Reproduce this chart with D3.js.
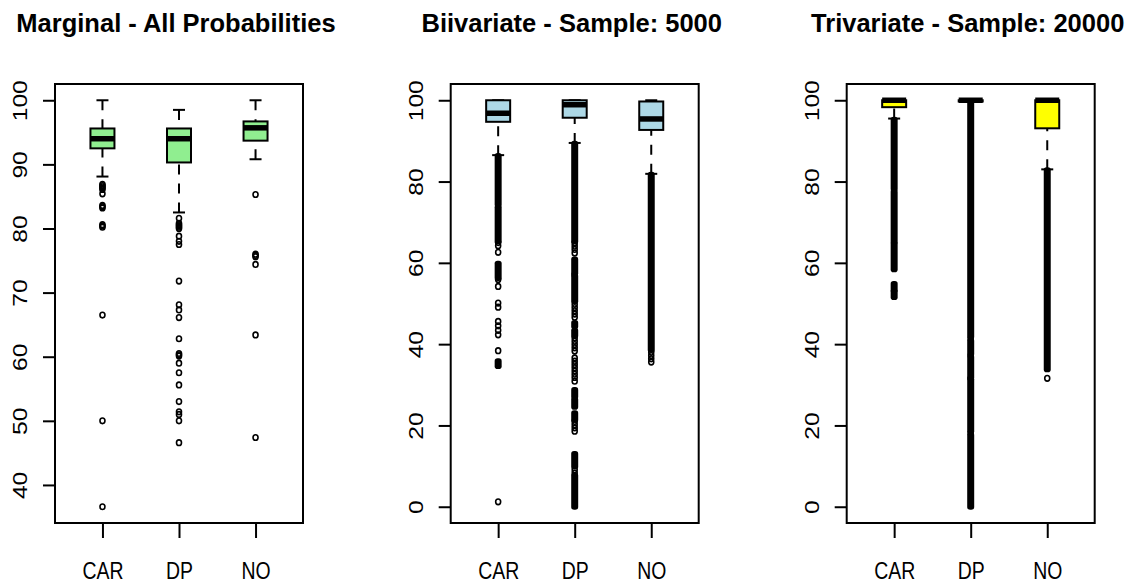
<!DOCTYPE html>
<html>
<head>
<meta charset="utf-8">
<script src="https://cdn.jsdelivr.net/npm/d3@7"></script>
<style>
  html, body { margin: 0; padding: 0; background: #fff; }
  svg { display: block; }
  text { font-family: "Liberation Sans", Arial, Helvetica, sans-serif; fill: #000; }
</style>
</head>
<body>
<svg id="chart" width="1139" height="585"></svg>
<script>
// ---- data -------------------------------------------------------------
const categories = ["CAR", "DP", "NO"];
const panelTitles = [
  "Marginal - All Probabilities",
  "Biivariate - Sample: 5000",
  "Trivariate - Sample: 20000"
];
const boxFills = ["#90ee90", "#add8e6", "#ffff00"];
const marginalTicks = [40, 50, 60, 70, 80, 90, 100];
const sampledTicks = [0, 20, 40, 60, 80, 100];

// five-number summaries per category: [lower whisker, Q1, median, Q3, upper whisker]
const marginalStats = [
  [88.1, 92.5, 94.0, 95.6, 100],
  [82.5, 90.3, 94.0, 95.6, 98.5],
  [90.8, 93.7, 95.7, 96.7, 100]
];
const bivariateStats = [
  [86.5, 94.7, 96.8, 100, 100],
  [89.5, 95.7, 98.9, 100, 100],
  [81.9, 92.7, 95.4, 99.7, 100]
];
const trivariateStats = [
  [95.5, 98.3, 100, 100, 100],
  [99.6, 99.7, 100, 100, 100],
  [83.0, 93.1, 100, 100, 100]
];

// individual outliers
const marginalOutliers = [
  [86.9, 86.7, 86.5, 86.3, 86.1, 85.4, 83.6, 83.4, 83.2, 80.6, 80.4, 80.2, 66.5, 50.0, 36.6],
  [81.6, 80.8, 80.6, 80.4, 80.2, 80.0, 78.8, 78.0, 77.5, 71.8, 68.1, 67.3, 66.1,
   62.8, 60.5, 60.3, 60.1, 59.0, 57.5, 55.6, 53.0, 51.4, 51.0, 50.0, 46.6],
  [85.3, 76.0, 75.8, 75.6, 74.4, 63.4, 47.4]
];
const bivariateOutliers = [
  [65.0, 64.2, 62.6, 55.9, 54.2, 50.1, 49.1, 45.6, 44.5, 43.4, 42.3, 38.4, 1.2],
  [64.9, 64.1, 63.3, 62.4, 57.1, 49.8, 49.0, 48.2, 47.4, 46.6, 41.5, 40.7,
   39.9, 39.1, 38.3, 36.6, 35.8, 35.0, 34.2, 33.4, 32.6, 31.8, 30.9,
   21.0, 20.2, 19.4, 18.6, 9.1, 8.3],
  [38.0, 37.2, 36.4, 35.6]
];
const trivariateOutliers = [
  [],
  [41.3, 37.2, 31.6, 18.1],
  [31.6]
];

// runs of outliers so dense that their markers merge: [upper, lower]
const marginalRuns = [[], [], []];
const bivariateRuns = [
  [[86.3, 74.4], [73.6, 65.3], [59.8, 56.3], [35.8, 34.6]],
  [[89.3, 65.3], [60.8, 57.5], [56.7, 50.6], [45.2, 44.4], [43.3, 42.1],
   [28.7, 27.1], [26.3, 24.6], [23.0, 21.4], [13.0, 9.9], [7.6, 0]],
  [[81.7, 38.6]]
];
const trivariateRuns = [
  [[95.2, 78.2], [77.4, 65.1], [64.6, 58.4], [54.8, 53.3], [52.9, 51.6]],
  [[99.5, 41.9], [40.8, 37.6], [36.8, 31.9], [31.3, 18.6], [17.6, 0]],
  [[82.8, 33.8]]
];

// ---- layout -----------------------------------------------------------
const svg = d3.select("#chart");
svg.append("rect").attr("width", 1139).attr("height", 585).attr("fill", "#fff");

const panelLefts = [55, 450.7, 846.7];
const plotW = 248, plotTop = 84, plotBottom = 523;
const boxHalf = 12, stapleHalf = 6;
const labelScale = "scale(0.79,1)";

const panels = [
  { stats: marginalStats, points: marginalOutliers, runs: marginalRuns, ticks: marginalTicks },
  { stats: bivariateStats, points: bivariateOutliers, runs: bivariateRuns, ticks: sampledTicks },
  { stats: trivariateStats, points: trivariateOutliers, runs: trivariateRuns, ticks: sampledTicks }
];

panels.forEach((p, pi) => {
  const g = svg.append("g").attr("transform", `translate(${panelLefts[pi]},0)`);

  // value range of everything drawn, widened by 4% each side
  const all = [];
  p.stats.forEach(s => all.push(...s));
  p.points.forEach(a => all.push(...a));
  p.runs.forEach(a => a.forEach(r => all.push(...r)));
  const [lo, hi] = d3.extent(all);
  const pad = (hi - lo) * 0.04;

  const x = d3.scalePoint().domain(categories).range([0, plotW]).padding(0.62);
  const y = d3.scaleLinear().domain([lo - pad, hi + pad]).range([plotBottom, plotTop]);

  categories.forEach((c, ci) => {
    const s = p.stats[ci];
    const cx = x(c);
    const cg = g.append("g");

    // whiskers (dashed, drawn from whisker end toward the box)
    [[0, 1], [4, 3]].forEach(([a, b]) => {
      if (Math.abs(y(s[a]) - y(s[b])) < 0.5) return;
      cg.append("line")
        .attr("x1", cx).attr("x2", cx)
        .attr("y1", y(s[a])).attr("y2", y(s[b]))
        .attr("stroke", "#000").attr("stroke-width", 2)
        .attr("stroke-dasharray", "10,9");
    });
    // staples
    [0, 4].forEach(k => {
      cg.append("line")
        .attr("x1", cx - stapleHalf).attr("x2", cx + stapleHalf)
        .attr("y1", y(s[k])).attr("y2", y(s[k]))
        .attr("stroke", "#000").attr("stroke-width", 2);
    });
    // box
    cg.append("rect")
      .attr("x", cx - boxHalf).attr("width", boxHalf * 2)
      .attr("y", y(s[3])).attr("height", Math.max(0.5, y(s[1]) - y(s[3])))
      .attr("fill", boxFills[pi]).attr("stroke", "#000").attr("stroke-width", 2);
    // median
    cg.append("line")
      .attr("x1", cx - boxHalf).attr("x2", cx + boxHalf)
      .attr("y1", y(s[2])).attr("y2", y(s[2]))
      .attr("stroke", "#000").attr("stroke-width", 5.5);

    // dense outlier runs
    cg.selectAll("rect.run").data(p.runs[ci]).join("rect")
      .attr("class", "run")
      .attr("x", cx - 3.5).attr("width", 7)
      .attr("y", d => y(d[0]) - 3)
      .attr("height", d => y(d[1]) - y(d[0]) + 6)
      .attr("rx", 2.8).attr("fill", "#000");
    // single outliers (open circles)
    cg.selectAll("ellipse").data(p.points[ci]).join("ellipse")
      .attr("cx", cx).attr("cy", d => y(d))
      .attr("rx", 2.5).attr("ry", 2.8)
      .attr("fill", "none").attr("stroke", "#000").attr("stroke-width", 1.6);
  });

  // plot frame
  g.append("rect")
    .attr("x", 0).attr("y", plotTop).attr("width", plotW).attr("height", plotBottom - plotTop)
    .attr("fill", "none").attr("stroke", "#000").attr("stroke-width", 2);

  // y axis
  const ya = g.append("g").call(d3.axisLeft(y).tickValues(p.ticks).tickSize(12).tickSizeOuter(0));
  ya.select(".domain").remove();
  ya.selectAll(".tick line").attr("stroke", "#000").attr("stroke-width", 2);
  ya.selectAll(".tick text")
    .attr("x", 0).attr("dy", null)
    .attr("text-anchor", "middle")
    .attr("font-size", 24.6)
    .attr("font-family", null)
    .attr("fill", "#000")
    .attr("transform", `translate(-28,0) ${labelScale} rotate(-90)`);

  // x axis
  const xa = g.append("g").attr("transform", `translate(0,${plotBottom})`)
    .call(d3.axisBottom(x).tickSize(15).tickSizeOuter(0));
  xa.select(".domain").remove();
  xa.selectAll(".tick line").attr("stroke", "#000").attr("stroke-width", 2);
  xa.selectAll(".tick text")
    .attr("y", 56).attr("dy", null)
    .attr("font-size", 24.6)
    .attr("font-family", null)
    .attr("fill", "#000")
    .attr("transform", labelScale);

  // title
  g.append("text")
    .attr("x", plotW / 2 - 3).attr("y", 32)
    .attr("text-anchor", "middle")
    .attr("font-size", 25.5).attr("font-weight", "bold")
    .text(panelTitles[pi]);
});
</script>
</body>
</html>
